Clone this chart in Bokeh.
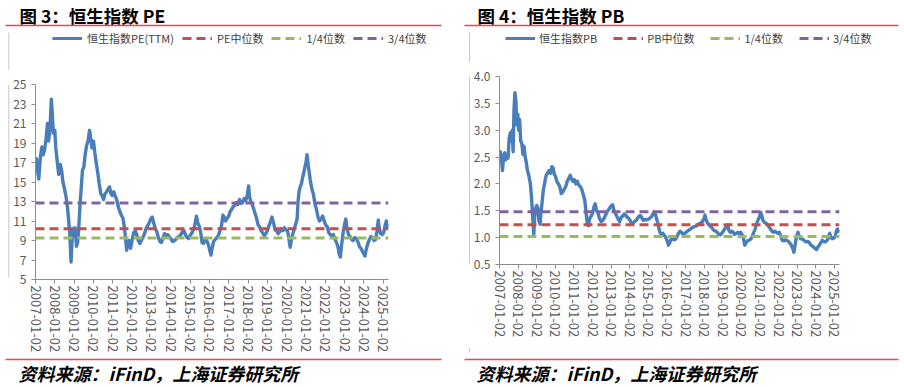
import math
from bokeh.plotting import figure
from bokeh.models import Range1d, FixedTicker, Legend, LegendItem, NumeralTickFormatter
from bokeh.core.properties import value
from bokeh.layouts import row, column
from bokeh.embed import file_html
from bokeh.resources import INLINE

FONT = "Noto Sans CJK SC"

# ---------------- data ----------------
tick_years = list(range(2007, 2026))
tick_labels = [f"{y}-01-02" for y in tick_years]

pe_years = [
    2007.00, 2007.05, 2007.10, 2007.17, 2007.25, 2007.33, 2007.40, 2007.47, 2007.55, 2007.62, 2007.68, 2007.75, 2007.82, 2007.87, 2007.92,
    2008.00, 2008.05, 2008.12, 2008.20, 2008.28, 2008.35, 2008.42, 2008.50, 2008.58, 2008.65, 2008.72, 2008.78, 2008.84, 2008.88, 2008.93,
    2009.00, 2009.05, 2009.12, 2009.18, 2009.23, 2009.30, 2009.37, 2009.43, 2009.50, 2009.57, 2009.64, 2009.72, 2009.80, 2009.86, 2009.92,
    2010.00, 2010.07, 2010.14, 2010.22, 2010.30, 2010.38, 2010.45, 2010.52, 2010.60, 2010.68, 2010.76, 2010.83, 2010.90, 2010.97,
    2011.05, 2011.12, 2011.20, 2011.28, 2011.36, 2011.44, 2011.52, 2011.60, 2011.66, 2011.72, 2011.78, 2011.85, 2011.92,
    2012.00, 2012.08, 2012.16, 2012.24, 2012.32, 2012.40, 2012.48, 2012.56, 2012.64, 2012.72, 2012.80, 2012.88, 2012.96,
    2013.04, 2013.12, 2013.20, 2013.28, 2013.36, 2013.44, 2013.52, 2013.60, 2013.68, 2013.76, 2013.84, 2013.92,
    2014.00, 2014.10, 2014.20, 2014.30, 2014.40, 2014.50, 2014.60, 2014.68, 2014.76, 2014.84, 2014.92,
    2015.00, 2015.10, 2015.20, 2015.28, 2015.33, 2015.40, 2015.47, 2015.55, 2015.62, 2015.70, 2015.78, 2015.86, 2015.94,
    2016.02, 2016.08, 2016.14, 2016.22, 2016.30, 2016.38, 2016.46, 2016.55, 2016.63, 2016.70, 2016.76, 2016.84, 2016.92,
    2017.00, 2017.08, 2017.16, 2017.24, 2017.32, 2017.40, 2017.48, 2017.56, 2017.64, 2017.72, 2017.80, 2017.88, 2017.96,
    2018.03, 2018.08, 2018.14, 2018.20, 2018.28, 2018.36, 2018.44, 2018.52, 2018.60, 2018.68, 2018.76, 2018.84, 2018.92,
    2019.00, 2019.08, 2019.16, 2019.24, 2019.32, 2019.40, 2019.48, 2019.56, 2019.64, 2019.72, 2019.80, 2019.88, 2019.96,
    2020.04, 2020.10, 2020.18, 2020.24, 2020.32, 2020.40, 2020.48, 2020.54, 2020.59, 2020.64, 2020.70, 2020.76, 2020.82, 2020.88, 2020.94,
    2021.00, 2021.05, 2021.10, 2021.15, 2021.22, 2021.30, 2021.38, 2021.46, 2021.54, 2021.62, 2021.70, 2021.78, 2021.86, 2021.94,
    2022.02, 2022.10, 2022.18, 2022.26, 2022.34, 2022.42, 2022.50, 2022.58, 2022.66, 2022.72, 2022.78, 2022.84, 2022.92,
    2023.00, 2023.06, 2023.12, 2023.20, 2023.28, 2023.36, 2023.44, 2023.52, 2023.60, 2023.68, 2023.76, 2023.84, 2023.92,
    2024.00, 2024.05, 2024.12, 2024.20, 2024.28, 2024.36, 2024.44, 2024.52, 2024.60, 2024.68, 2024.74, 2024.78, 2024.86, 2024.94,
    2025.02, 2025.10, 2025.16, 2025.22, 2025.27,
]
pe_values = [
    16.8, 17.4, 16.2, 15.3, 17.5, 18.6, 17.8, 18.3, 19.5, 21.0, 19.2, 20.5, 23.5, 22.0, 20.0,
    20.3, 18.5, 17.2, 15.8, 16.8, 16.2, 15.0, 14.3, 13.5, 12.5, 11.0, 9.5, 6.8, 8.5, 10.2,
    9.8, 10.3, 8.4, 8.8, 10.0, 12.5, 14.5, 16.2, 16.5, 17.8, 18.7, 19.2, 20.3, 19.5, 18.5,
    19.2, 18.0, 17.0, 16.0, 14.8, 13.8, 13.6, 13.2, 13.8, 14.0, 14.3, 14.5, 13.8, 13.6,
    14.0, 13.6, 13.2, 12.5, 12.0, 11.6, 11.3, 10.4, 9.2, 8.0, 8.6, 9.0, 8.2,
    9.0, 9.8, 10.0, 9.6, 9.0, 8.7, 9.0, 9.3, 9.7, 10.2, 10.5, 10.8, 11.2,
    11.4, 10.8, 10.2, 9.9, 9.3, 8.9, 8.8, 9.3, 9.7, 9.5, 9.6, 9.4,
    9.2, 8.9, 9.0, 9.2, 9.4, 9.5, 9.9, 10.0, 9.6, 9.3, 9.2,
    9.5, 9.8, 10.2, 11.0, 11.5, 10.8, 10.5, 9.8, 8.8, 8.7, 9.2, 9.0, 8.6,
    8.0, 7.5, 8.2, 8.9, 9.1, 9.3, 9.5, 10.0, 10.6, 11.6, 11.4, 11.0, 11.3,
    11.5, 12.0, 12.2, 12.5, 12.6, 12.9, 12.7, 13.2, 12.8, 12.9, 13.3, 13.1, 13.6,
    14.6, 13.5, 13.0, 12.8, 12.3, 11.8, 11.3, 10.6, 10.4, 10.0, 9.8, 9.5, 9.7,
    10.0, 10.5, 10.9, 11.4, 10.8, 10.1, 10.0, 9.7, 9.9, 10.2, 10.0, 10.3, 10.1,
    10.0, 9.4, 8.3, 9.0, 9.7, 10.2, 10.8, 11.2, 13.0, 14.0, 14.5, 14.8, 15.4, 15.9, 16.5,
    17.0, 17.8, 17.0, 16.2, 15.2, 14.3, 13.8, 12.8, 12.2, 11.4, 11.0, 11.2, 11.5, 11.0,
    10.6, 10.4, 9.8, 9.6, 9.4, 9.6, 9.1, 8.8, 8.3, 7.6, 7.3, 8.5, 9.8,
    10.7, 11.2, 10.3, 9.6, 9.4, 9.1, 9.0, 9.3, 9.2, 8.9, 8.4, 8.2, 7.9,
    7.6, 7.4, 8.1, 8.7, 9.1, 9.4, 9.3, 9.0, 9.1, 10.0, 11.1, 10.4, 9.7, 9.6,
    9.8, 10.6, 11.0, 10.4, 10.7,
]
pe_median = 10.2
pe_q1 = 9.25
pe_q3 = 12.85
pe_y_ticks = [5, 7, 9, 11, 13, 15, 17, 19, 21, 23, 25]

pb_years = [
    2007.00, 2007.04, 2007.10, 2007.16, 2007.22, 2007.28, 2007.34, 2007.40, 2007.46, 2007.52, 2007.58, 2007.63, 2007.68, 2007.73, 2007.78, 2007.83, 2007.88, 2007.93, 2007.98,
    2008.03, 2008.08, 2008.14, 2008.20, 2008.26, 2008.32, 2008.38, 2008.44, 2008.50, 2008.58, 2008.66, 2008.72, 2008.78, 2008.84, 2008.89, 2008.94,
    2009.00, 2009.06, 2009.12, 2009.18, 2009.24, 2009.30, 2009.36, 2009.42, 2009.50, 2009.58, 2009.66, 2009.74, 2009.82, 2009.88, 2009.94,
    2010.00, 2010.08, 2010.16, 2010.24, 2010.32, 2010.40, 2010.48, 2010.56, 2010.64, 2010.72, 2010.80, 2010.86, 2010.94,
    2011.02, 2011.10, 2011.18, 2011.26, 2011.34, 2011.42, 2011.50, 2011.58, 2011.66, 2011.72, 2011.78, 2011.84, 2011.92,
    2012.00, 2012.08, 2012.14, 2012.22, 2012.30, 2012.38, 2012.46, 2012.54, 2012.62, 2012.70, 2012.78, 2012.86, 2012.94,
    2013.02, 2013.08, 2013.14, 2013.22, 2013.30, 2013.38, 2013.46, 2013.54, 2013.62, 2013.70, 2013.78, 2013.86, 2013.94,
    2014.02, 2014.10, 2014.18, 2014.26, 2014.34, 2014.42, 2014.50, 2014.58, 2014.66, 2014.74, 2014.82, 2014.90, 2014.98,
    2015.06, 2015.14, 2015.22, 2015.30, 2015.36, 2015.42, 2015.50, 2015.56, 2015.62, 2015.70, 2015.78, 2015.86, 2015.94,
    2016.02, 2016.08, 2016.14, 2016.22, 2016.30, 2016.38, 2016.46, 2016.54, 2016.62, 2016.70, 2016.78, 2016.86, 2016.94,
    2017.02, 2017.10, 2017.18, 2017.26, 2017.34, 2017.42, 2017.50, 2017.58, 2017.66, 2017.74, 2017.82, 2017.90, 2017.98,
    2018.04, 2018.08, 2018.14, 2018.22, 2018.30, 2018.38, 2018.46, 2018.54, 2018.62, 2018.70, 2018.78, 2018.86, 2018.94,
    2019.02, 2019.10, 2019.18, 2019.26, 2019.32, 2019.40, 2019.48, 2019.56, 2019.64, 2019.72, 2019.80, 2019.88, 2019.96,
    2020.04, 2020.10, 2020.18, 2020.24, 2020.32, 2020.40, 2020.48, 2020.56, 2020.64, 2020.72, 2020.80, 2020.88, 2020.96,
    2021.04, 2021.10, 2021.16, 2021.24, 2021.32, 2021.40, 2021.48, 2021.56, 2021.64, 2021.72, 2021.80, 2021.88, 2021.96,
    2022.04, 2022.12, 2022.20, 2022.28, 2022.36, 2022.44, 2022.52, 2022.60, 2022.68, 2022.76, 2022.82, 2022.88, 2022.96,
    2023.04, 2023.10, 2023.18, 2023.26, 2023.34, 2023.42, 2023.50, 2023.58, 2023.66, 2023.74, 2023.82, 2023.90, 2023.98,
    2024.04, 2024.10, 2024.18, 2024.26, 2024.34, 2024.42, 2024.50, 2024.58, 2024.66, 2024.74, 2024.80, 2024.88, 2024.96,
    2025.04, 2025.10, 2025.16, 2025.22, 2025.27,
]
pb_values = [
    2.45, 2.60, 2.50, 2.25, 2.50, 2.58, 2.45, 2.55, 2.48, 2.85, 2.95, 2.80, 3.00, 2.60, 3.40, 3.70, 3.55, 3.10, 3.30,
    3.00, 3.20, 2.80, 2.75, 2.55, 2.70, 2.50, 2.40, 2.25, 2.15, 2.00, 1.75, 1.40, 1.05, 1.40, 1.55,
    1.60, 1.55, 1.30, 1.25, 1.50, 1.70, 1.90, 2.00, 2.15, 2.20, 2.25, 2.20, 2.32, 2.30, 2.18,
    2.15, 2.05, 2.00, 1.95, 1.82, 1.85, 1.90, 1.95, 2.05, 2.10, 2.16, 2.10, 2.05,
    2.08, 2.00, 2.05, 1.98, 1.95, 1.90, 1.80, 1.70, 1.45, 1.25, 1.22, 1.35, 1.40,
    1.45, 1.58, 1.63, 1.50, 1.45, 1.35, 1.30, 1.32, 1.36, 1.42, 1.48, 1.52, 1.56,
    1.60, 1.61, 1.52, 1.46, 1.40, 1.34, 1.30, 1.38, 1.40, 1.44, 1.42, 1.38, 1.36,
    1.32, 1.26, 1.27, 1.30, 1.32, 1.36, 1.40, 1.41, 1.36, 1.32, 1.34, 1.33, 1.34,
    1.36, 1.38, 1.42, 1.48, 1.45, 1.38, 1.28, 1.18, 1.10, 1.05, 1.08, 1.04, 1.00,
    0.93, 0.86, 0.90, 0.97, 0.98, 0.96, 0.97, 1.02, 1.08, 1.12, 1.10, 1.06, 1.07,
    1.10, 1.12, 1.14, 1.16, 1.18, 1.20, 1.21, 1.22, 1.24, 1.26, 1.27, 1.30, 1.34,
    1.42, 1.36, 1.30, 1.25, 1.22, 1.20, 1.16, 1.13, 1.12, 1.10, 1.06, 1.05, 1.08,
    1.12, 1.16, 1.20, 1.24, 1.14, 1.10, 1.12, 1.10, 1.06, 1.08, 1.10, 1.08, 1.10,
    1.05, 1.00, 0.86, 0.90, 0.94, 0.95, 0.97, 1.00, 1.08, 1.14, 1.24, 1.32, 1.38,
    1.47, 1.40, 1.32, 1.28, 1.27, 1.24, 1.20, 1.16, 1.12, 1.10, 1.12, 1.10, 1.08,
    1.10, 1.02, 0.95, 0.94, 0.96, 0.95, 0.93, 0.90, 0.86, 0.80, 0.73, 0.86, 1.02,
    1.10, 1.02, 0.98, 0.98, 0.96, 0.93, 0.92, 0.93, 0.90, 0.86, 0.84, 0.82, 0.79,
    0.78, 0.82, 0.86, 0.90, 0.95, 0.93, 0.92, 0.94, 0.98, 1.08, 1.02, 0.98, 0.99,
    1.02, 1.12, 1.16, 1.12, 1.15,
]
pb_median = 1.24
pb_q1 = 1.02
pb_q3 = 1.48
pb_y_ticks = [0.5, 1.0, 1.5, 2.0, 2.5, 3.0, 3.5, 4.0]

source_text = "资料来源：iFinD，上海证券研究所"

BLUE = "#4A7EBB"
RED = "#C0504D"
GREEN = "#9BBB59"
PURPLE = "#8064A2"
AXIS = "#8C8C8C"
RULE = "#E8474C"
VLINE = "#C8C8C8"
DASH = "9 5"

PAGE_H = 387
MAIN_H = 285
NAN = float("nan")

# page-level positions of the decorations (pixels from the top of the page)
TITLE_Y = 14.5
TOP_RULE_Y = 25
LEGEND_TOP = 46
VLINE_TOP = 32
VLINE_BOTTOM = 352
FOOT_RULE_Y = 359
FOOT_TEXT_Y = 372.5


def pixel_fig(width, height):
    """A decoration canvas whose data space is its own pixel grid (y down)."""
    f = figure(width=width, height=height, output_backend="svg", toolbar_location=None,
               x_range=Range1d(0, width), y_range=Range1d(height, 0),
               x_axis_type=None, y_axis_type=None,
               min_border_left=0, min_border_right=0, min_border_top=0, min_border_bottom=0)
    f.outline_line_color = None
    f.xgrid.visible = False
    f.ygrid.visible = False
    f.background_fill_color = "white"
    f.border_fill_color = "white"
    return f


def make_panel(width, strip_w, vline_x, header_h, frame_top, frame_bottom, frame_lr,
               years, values, labels, med, q1, q3, y_ticks, y_fmt, title, title_x,
               rule_x, legend_x, legend_spacing, legend_standoff):
    footer_h = PAGE_H - header_h - MAIN_H
    main_top = header_h
    foot_top = header_h + MAIN_H

    # ----- header: title, rule, legend -----
    h = pixel_fig(width, header_h)
    h.text(x=[title_x], y=[TITLE_Y], text=[title], text_font=value(FONT),
           text_font_size="17.5px", text_font_style="bold", text_color="#000000",
           text_baseline="middle", text_align="left")
    h.quad(left=[rule_x[0]], right=[rule_x[1]], top=[TOP_RULE_Y - 0.75], bottom=[TOP_RULE_Y + 0.75],
           fill_color=RULE, line_color=None)
    h.quad(left=[vline_x - 0.5], right=[vline_x + 0.5], top=[VLINE_TOP], bottom=[header_h],
           fill_color=VLINE, line_color=None)
    proxies = [
        h.line(x=[NAN], y=[NAN], line_color=BLUE, line_width=3),
        h.line(x=[NAN], y=[NAN], line_color=RED, line_width=3, line_dash=DASH),
        h.line(x=[NAN], y=[NAN], line_color=GREEN, line_width=3, line_dash=DASH),
        h.line(x=[NAN], y=[NAN], line_color=PURPLE, line_width=3, line_dash=DASH),
    ]
    legend = Legend(items=[LegendItem(label=lab, renderers=[r]) for lab, r in zip(labels, proxies)],
                    location=(legend_x, header_h - LEGEND_TOP), orientation="horizontal",
                    glyph_width=30, glyph_height=14, label_height=14,
                    label_standoff=legend_standoff, spacing=legend_spacing,
                    padding=0, margin=0, border_line_color=None,
                    background_fill_alpha=0,
                    label_text_font=FONT, label_text_font_size="11px",
                    label_text_color="#404040")
    h.add_layout(legend)

    # ----- left strip carrying the thin grey frame line -----
    s = pixel_fig(strip_w, MAIN_H)
    s.quad(left=[vline_x - 0.5], right=[vline_x + 0.5], top=[0],
           bottom=[min(MAIN_H, VLINE_BOTTOM - main_top)],
           fill_color=VLINE, line_color=None)

    # ----- main chart -----
    fl, fr = frame_lr
    x0, x1 = min(years), max(years)
    p = figure(width=width - strip_w, height=MAIN_H, output_backend="svg", toolbar_location=None,
               x_range=Range1d(x0, x1), y_range=Range1d(min(y_ticks), max(y_ticks)),
               min_border_left=fl, min_border_top=frame_top - main_top,
               min_border_right=fr, min_border_bottom=foot_top - frame_bottom)
    p.outline_line_color = None
    p.xgrid.visible = False
    p.ygrid.visible = False
    p.background_fill_color = "white"
    p.border_fill_color = "white"

    p.line(years, values, line_color=BLUE, line_width=3.4, line_join="round")
    p.line([x0, x1], [med, med], line_color=RED, line_width=3, line_dash=DASH)
    p.line([x0, x1], [q1, q1], line_color=GREEN, line_width=3, line_dash=DASH)
    p.line([x0, x1], [q3, q3], line_color=PURPLE, line_width=3, line_dash=DASH)

    for ax in (p.xaxis[0], p.yaxis[0]):
        ax.axis_line_color = AXIS
        ax.major_tick_line_color = AXIS
        ax.minor_tick_line_color = None
        ax.major_tick_in = 0
        ax.major_tick_out = 4
        ax.major_label_text_font = FONT
        ax.major_label_text_font_size = "12px"
        ax.major_label_text_color = "#595959"
    p.yaxis.ticker = FixedTicker(ticks=y_ticks)
    p.yaxis.formatter = NumeralTickFormatter(format=y_fmt)
    p.yaxis.major_label_standoff = 5
    p.xaxis.ticker = FixedTicker(ticks=tick_years)
    p.xaxis.major_label_overrides = {y: lab for y, lab in zip(tick_years, tick_labels)}
    p.xaxis.major_label_orientation = -math.pi / 2
    p.xaxis.major_label_standoff = 2
    p.xaxis.major_label_text_font_size = "13px"

    # ----- footer: rule and source -----
    f = pixel_fig(width, footer_h)
    if VLINE_BOTTOM > foot_top:
        f.quad(left=[vline_x - 0.5], right=[vline_x + 0.5], top=[0], bottom=[VLINE_BOTTOM - foot_top],
               fill_color=VLINE, line_color=None)
    f.quad(left=[rule_x[0]], right=[rule_x[1]],
           top=[FOOT_RULE_Y - foot_top - 0.75], bottom=[FOOT_RULE_Y - foot_top + 0.75],
           fill_color=RULE, line_color=None)
    f.text(x=[title_x - 1], y=[FOOT_TEXT_Y - foot_top], text=[source_text], text_font=value(FONT),
           text_font_size="18px", text_font_style="bold italic", text_color="#000000",
           text_baseline="middle", text_align="left")

    return column(h, row(s, p), f)


left_panel = make_panel(458, 10, 8.3, 70, 84, 279, (24, 70), pe_years, pe_values,
                        ["恒生指数PE(TTM)", "PE中位数", "1/4位数", "3/4位数"],
                        pe_median, pe_q1, pe_q3, pe_y_ticks, "0", "图 3：恒生指数 PE",
                        19, (5, 441), 52, 8, 5)

right_panel = make_panel(446, 12, 11.0, 62, 76, 264, (27, 65), pb_years, pb_values,
                         ["恒生指数PB", "PB中位数", "1/4位数", "3/4位数"],
                         pb_median, pb_q1, pb_q3, pb_y_ticks, "0.0", "图 4：恒生指数 PB",
                         19, (6, 440), 47, 16, 4)

layout = row(left_panel, right_panel)
open("out.html", "w").write(file_html(layout, INLINE))
